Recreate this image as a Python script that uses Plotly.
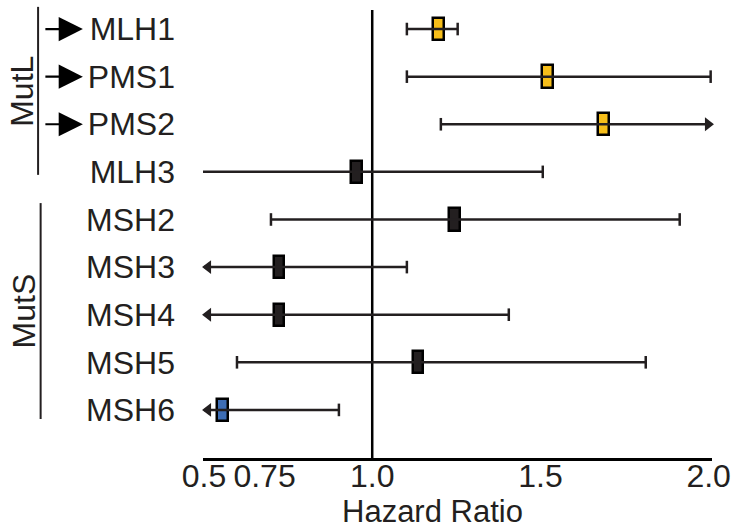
import plotly.graph_objects as go

genes = ["MLH1", "PMS1", "PMS2", "MLH3", "MSH2", "MSH3", "MSH4", "MSH5", "MSH6"]
hr = [1.198, 1.522, 1.688, 0.954, 1.245, 0.723, 0.723, 1.136, 0.556]
ci_low = [1.103, 1.103, 1.204, 0.494, 0.699, 0.50, 0.50, 0.598, 0.50]
ci_high = [1.254, 2.006, 2.01, 1.507, 1.914, 1.103, 1.406, 1.813, 0.901]
low_arrow = [False, False, False, False, False, True, True, False, True]
high_arrow = [False, False, True, False, False, False, False, False, False]
box_colors = ["#F6BE1A", "#F6BE1A", "#F6BE1A", "#231F20", "#231F20",
              "#231F20", "#231F20", "#231F20", "#3D6DB5"]
arrowed_genes = ["MLH1", "PMS1", "PMS2"]
groups = ["MutL", "MutS"]
x_tickvals = [0.5, 0.68, 1.0, 1.5, 2.0]
x_ticktext = ["0.5", "0.75", "1.0", "1.5", "2.0"]

INK = "#231F20"
FONT = "Liberation Sans, Arial, sans-serif"
FS = 32
rows = list(range(len(genes)))

fig = go.Figure()

# CI lines
for i in rows:
    fig.add_trace(go.Scatter(x=[ci_low[i], ci_high[i]], y=[i, i], mode="lines",
                             line=dict(color=INK, width=2.5), hoverinfo="skip",
                             showlegend=False, cliponaxis=False))

# caps
cap_x, cap_y = [], []
for i in rows:
    if not low_arrow[i]:
        cap_x.append(ci_low[i]); cap_y.append(i)
    if not high_arrow[i]:
        cap_x.append(ci_high[i]); cap_y.append(i)
fig.add_trace(go.Scatter(x=cap_x, y=cap_y, mode="markers",
                         marker=dict(symbol="line-ns", size=9,
                                     line=dict(color=INK, width=2.5)),
                         showlegend=False, hoverinfo="skip", cliponaxis=False))

# arrow heads
la = [i for i in rows if low_arrow[i]]
fig.add_trace(go.Scatter(x=[ci_low[i] + 0.012 for i in la], y=la, mode="markers",
                         marker=dict(symbol="triangle-left", size=12, color=INK),
                         showlegend=False, hoverinfo="skip", cliponaxis=False))
ha = [i for i in rows if high_arrow[i]]
fig.add_trace(go.Scatter(x=[ci_high[i] - 0.012 for i in ha], y=ha, mode="markers",
                         marker=dict(symbol="triangle-right", size=12, color=INK),
                         showlegend=False, hoverinfo="skip", cliponaxis=False))

# HR boxes
bw = 0.032
fig.add_trace(go.Bar(orientation="h", y=rows, x=[bw] * len(rows),
                     base=[h - bw / 2 for h in hr], width=0.47,
                     marker=dict(color=box_colors, line=dict(color="#000000", width=2.5)),
                     showlegend=False, hoverinfo="skip"))

# reference line at HR = 1
fig.add_shape(type="line", xref="x", yref="paper", x0=1.0, x1=1.0, y0=0, y1=1,
              line=dict(color="#000000", width=2.5), layer="below")

# gene arrows
for g in arrowed_genes:
    fig.add_annotation(x=-0.236, xref="paper", y=genes.index(g), yref="y",
                       ax=-39, ay=0, axref="pixel", ayref="pixel", text="",
                       showarrow=True, arrowhead=2, arrowsize=2.2, arrowwidth=2.2,
                       arrowcolor="#000000")

# group brackets
fig.add_shape(type="line", xref="paper", yref="paper", x0=-0.324, x1=-0.324,
              y0=1.007, y1=0.632, line=dict(color=INK, width=2))
fig.add_shape(type="line", xref="paper", yref="paper", x0=-0.319, x1=-0.319,
              y0=0.569, y1=0.087, line=dict(color=INK, width=2))
fig.add_annotation(text=groups[0], xref="paper", yref="paper", x=-0.357, y=0.818,
                   xanchor="center", yanchor="middle",
                   textangle=-90, showarrow=False, font=dict(size=FS, color=INK, family=FONT))
fig.add_annotation(text=groups[1], xref="paper", yref="paper", x=-0.351, y=0.328,
                   xanchor="center", yanchor="middle",
                   textangle=-90, showarrow=False, font=dict(size=FS, color=INK, family=FONT))

# axis title
fig.add_annotation(text="Hazard Ratio", xref="paper", yref="paper", x=0.45, y=-0.119,
                   yanchor="middle", showarrow=False, borderpad=0,
                   font=dict(size=31, color=INK, family=FONT))

fig.update_layout(
    width=737, height=529,
    margin=dict(l=203, r=25, t=10, b=71, autoexpand=False),
    paper_bgcolor="white", plot_bgcolor="white",
    bargap=0,
    font=dict(family=FONT, size=FS, color=INK),
    xaxis=dict(range=[0.497, 2.01], tickvals=x_tickvals, ticktext=x_ticktext,
               showgrid=False, zeroline=False, showline=True, linecolor="#000000",
               linewidth=2.5, ticks="", ticklabelstandoff=-12,
               tickfont=dict(size=FS, color=INK)),
    yaxis=dict(range=[9.01, -0.4], tickvals=rows, ticktext=genes,
               showgrid=False, zeroline=False, showline=False, ticks="",
               ticklabelstandoff=27, tickfont=dict(size=FS, color=INK)),
)

fig.write_html("out.html", config={"displayModeBar": False},
               post_script="document.body.style.margin='0';")
